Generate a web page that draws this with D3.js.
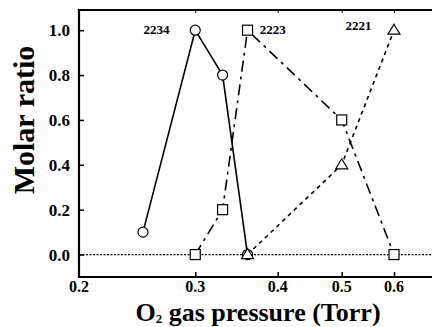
<!DOCTYPE html>
<html>
<head>
<meta charset="utf-8">
<script src="https://cdn.jsdelivr.net/npm/d3@7"></script>
<style>
  html, body { margin: 0; padding: 0; background: #fff; }
  svg { display: block; }
  text { font-family: "Liberation Serif", "Times New Roman", serif; font-weight: bold; fill: #000; }
</style>
</head>
<body>
<div id="chart"></div>
<script>
	// data
	var xTicks = [0.2, 0.3, 0.4, 0.5, 0.6];
	var yTicks = [0, 0.2, 0.4, 0.6, 0.8, 1.0];

	var p2234 = [0.25, 0.30, 0.33, 0.36];
	var v2234 = [0.1, 1.0, 0.8, 0.0];

	var p2223 = [0.30, 0.33, 0.36, 0.50, 0.60];
	var v2223 = [0.0, 0.2, 1.0, 0.6, 0.0];

	var p2221 = [0.36, 0.50, 0.60];
	var v2221 = [0.0, 0.4, 1.0];

	var seriesNames = ["2234", "2223", "2221"];

	var iWidth = 432, iHeight = 327;
	var mLeft = 79, mRight = 432, mTop = 10, mBottom = 277;

	var svg = d3.select("#chart").append("svg")
		.attr("width", iWidth)
		.attr("height", iHeight);

	var x = d3.scaleLog().domain([0.2, 0.685]).range([mLeft, mRight]);
	var y = d3.scaleLinear().domain([-0.1, 1.09]).range([mBottom, mTop]);

	function zip(px, py) {
		return px.map(function(d, i) { return { x: d, y: py[i] }; });
	}

	var series = [
		{ name: seriesNames[0], pts: zip(p2234, v2234), dash: null, shape: "circle", lx: 0.262, ly: 1.0 },
		{ name: seriesNames[1], pts: zip(p2223, v2223), dash: "11,5,3,5", shape: "square", lx: 0.393, ly: 1.0 },
		{ name: seriesNames[2], pts: zip(p2221, v2221), dash: "4,4", shape: "triangle", lx: 0.53, ly: 1.02 }
	];

	// zero line
	svg.append("line")
		.attr("x1", mLeft).attr("x2", mRight)
		.attr("y1", y(0)).attr("y2", y(0))
		.attr("stroke", "#000").attr("stroke-width", 1.3)
		.attr("stroke-dasharray", "2,1.5");

	// frame: left, bottom, top
	svg.append("path")
		.attr("d", "M" + mRight + "," + mTop + "H" + mLeft + "V" + mBottom + "H" + mRight)
		.attr("fill", "none").attr("stroke", "#000").attr("stroke-width", 2.2);

	// y ticks (inward)
	var yAxis = d3.axisRight(y).tickValues(yTicks).tickSize(5).tickFormat("");
	svg.append("g").attr("transform", "translate(" + mLeft + ",0)").call(yAxis)
		.call(function(g) { g.select(".domain").remove(); })
		.selectAll("line").attr("stroke-width", 1.5);

	svg.selectAll(".ylab").data(yTicks).enter().append("text")
		.attr("class", "ylab")
		.attr("x", mLeft - 9)
		.attr("y", function(d) { return y(d) + 6; })
		.attr("text-anchor", "end")
		.style("font-size", "17px")
		.text(function(d) { return d.toFixed(1); });

	// x ticks (inward)
	var xAxis = d3.axisTop(x).tickValues(xTicks.slice(1)).tickSize(5).tickFormat("");
	svg.append("g").attr("transform", "translate(0," + mBottom + ")").call(xAxis)
		.call(function(g) { g.select(".domain").remove(); })
		.selectAll("line").attr("stroke-width", 1.5);

	var xTopAxis = d3.axisBottom(x).tickValues(xTicks.slice(1)).tickSize(3).tickFormat("");
	svg.append("g").attr("transform", "translate(0," + mTop + ")").call(xTopAxis)
		.call(function(g) { g.select(".domain").remove(); })
		.selectAll("line").attr("stroke-width", 1);

	svg.selectAll(".xlab").data(xTicks).enter().append("text")
		.attr("class", "xlab")
		.attr("x", function(d) { return x(d); })
		.attr("y", 292)
		.attr("text-anchor", "middle")
		.style("font-size", "16px")
		.text(function(d) { return d.toFixed(1); });

	// axis titles
	var xt = svg.append("text")
		.attr("x", 258).attr("y", 321)
		.attr("text-anchor", "middle")
		.style("font-size", "26px");
	xt.append("tspan").text("O");
	xt.append("tspan").attr("dy", 2).style("font-size", "13px").text("2");
	xt.append("tspan").attr("dy", -2).text(" gas pressure (Torr)");

	svg.append("text")
		.attr("transform", "translate(34,120) rotate(-90)")
		.attr("text-anchor", "middle")
		.style("font-size", "30px")
		.text("Molar ratio");

	// lines
	var line = d3.line()
		.x(function(d) { return x(d.x); })
		.y(function(d) { return y(d.y); });

	svg.selectAll(".series").data(series).enter().append("path")
		.attr("class", "series")
		.attr("d", function(d) { return line(d.pts); })
		.attr("fill", "none")
		.attr("stroke", "#000")
		.attr("stroke-width", 1.6)
		.attr("stroke-dasharray", function(d) { return d.dash; });

	// markers
	series.forEach(function(s) {
		var g = svg.append("g");
		s.pts.forEach(function(p) {
			var cx = x(p.x), cy = y(p.y);
			if (s.shape === "circle") {
				g.append("circle").attr("cx", cx).attr("cy", cy).attr("r", 5)
					.attr("fill", "#fff").attr("stroke", "#000").attr("stroke-width", 1.2);
			} else if (s.shape === "square") {
				g.append("rect").attr("x", cx - 5).attr("y", cy - 5).attr("width", 10).attr("height", 10)
					.attr("fill", "#fff").attr("stroke", "#000").attr("stroke-width", 1.2);
			} else {
				g.append("path")
					.attr("d", "M" + cx + "," + (cy - 6) + "L" + (cx + 6) + "," + (cy + 4) + "L" + (cx - 6) + "," + (cy + 4) + "Z")
					.attr("fill", "#fff").attr("stroke", "#000").attr("stroke-width", 1.2);
			}
		});
	});

	// series labels
	svg.selectAll(".slab").data(series).enter().append("text")
		.attr("class", "slab")
		.attr("x", function(d) { return x(d.lx); })
		.attr("y", function(d) { return y(d.ly) + 4; })
		.attr("text-anchor", "middle")
		.style("font-size", "13px")
		.text(function(d) { return d.name; });
</script>
</body>
</html>
